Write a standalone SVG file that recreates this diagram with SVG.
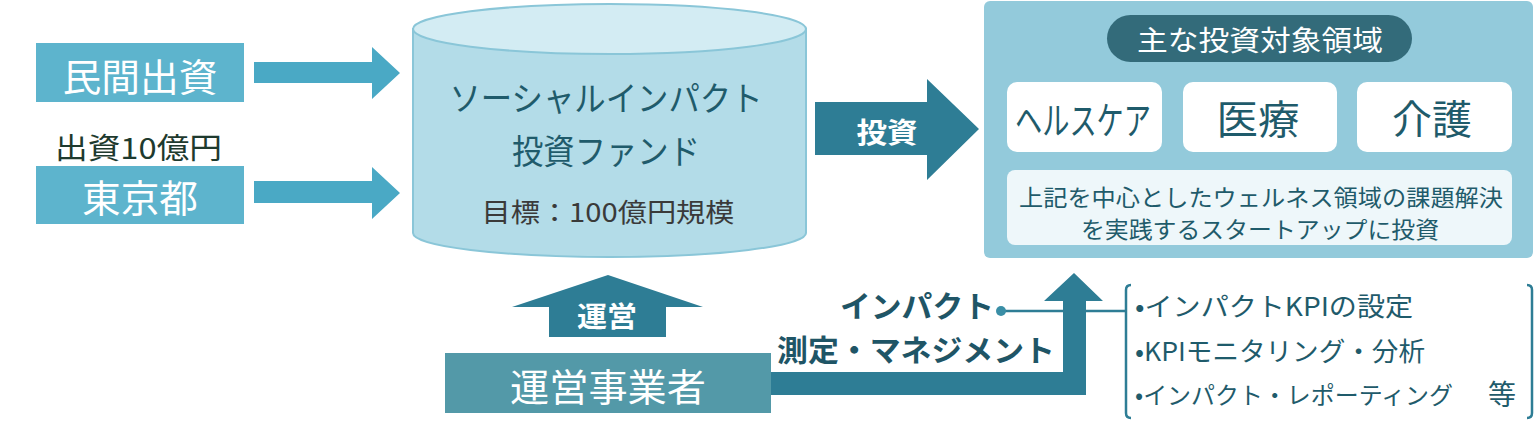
<svg xmlns="http://www.w3.org/2000/svg" width="1539" height="438" viewBox="0 0 1539 438">
<style>
text{font-family:"Noto Sans CJK JP","Noto Sans",sans-serif;dominant-baseline:central}
.w{fill:#ffffff}
.d{fill:#1f5b6b}
.b{font-weight:bold}
.src{fill:#5db4cd}
.arr{fill:#4aa9c5}
.dk{fill:#2e7d95}
.card{fill:#ffffff}
.brk{fill:none;stroke:#2e7d95;stroke-width:2.5}
</style>
<rect width="1539" height="438" fill="#ffffff"/>
<g id="minkan">
<rect class="src" x="36" y="43" width="208" height="59"/>
<text class="w" x="140" y="74" font-size="38" text-anchor="middle" textLength="155" lengthAdjust="spacingAndGlyphs">民間出資</text>
</g>
<g id="tokyo">
<text x="55" y="146" font-size="29" fill="#1e3a2e" textLength="167" lengthAdjust="spacingAndGlyphs">出資10億円</text>
<rect class="src" x="36" y="166" width="208" height="58"/>
<text class="w" x="140" y="195" font-size="38" text-anchor="middle" textLength="116" lengthAdjust="spacingAndGlyphs">東京都</text>
</g>
<g id="fund">
<path d="M413,29 V233 A196.5,24 0 0 0 806,233 V29 Z" fill="#b3dce8" stroke="#8ac6d8" stroke-width="2"/>
<ellipse cx="609.5" cy="29" rx="196.5" ry="25" fill="#d3ecf3" stroke="#8ac6d8" stroke-width="2"/>
<text class="d" x="606" y="96" font-size="34" text-anchor="middle" textLength="313" lengthAdjust="spacingAndGlyphs">ソーシャルインパクト</text>
<text class="d" x="606" y="149" font-size="34" text-anchor="middle" textLength="188" lengthAdjust="spacingAndGlyphs">投資ファンド</text>
<text x="608" y="210" font-size="26" fill="#3a3a3a" text-anchor="middle" textLength="253" lengthAdjust="spacingAndGlyphs">目標：100億円規模</text>
</g>
<g id="targets">
<rect x="984" y="1" width="549" height="257" rx="6" fill="#93cadb"/>
<rect x="1107" y="15" width="305" height="47" rx="23.5" fill="#336b7a"/>
<text class="w" x="1260" y="39" font-size="28" text-anchor="middle" textLength="246" lengthAdjust="spacingAndGlyphs">主な投資対象領域</text>
<rect class="card" x="1007" y="82" width="155" height="70" rx="10"/>
<text class="d" x="1083" y="117" font-size="38" text-anchor="middle" textLength="136" lengthAdjust="spacingAndGlyphs">ヘルスケア</text>
<rect class="card" x="1183" y="82" width="154" height="70" rx="10"/>
<text class="d" x="1258" y="117" font-size="40" text-anchor="middle" textLength="83" lengthAdjust="spacingAndGlyphs">医療</text>
<rect class="card" x="1357" y="82" width="155" height="70" rx="10"/>
<text class="d" x="1432" y="117" font-size="40" text-anchor="middle" textLength="80" lengthAdjust="spacingAndGlyphs">介護</text>
<rect x="1007" y="170" width="505" height="75" rx="8" fill="#eef7fa"/>
<text class="d" x="1261" y="196" font-size="23" text-anchor="middle" textLength="484" lengthAdjust="spacingAndGlyphs">上記を中心としたウェルネス領域の課題解決</text>
<text class="d" x="1260" y="228" font-size="23" text-anchor="middle" textLength="358" lengthAdjust="spacingAndGlyphs">を実践するスタートアップに投資</text>
</g>
<g id="operator">
<rect x="445" y="353" width="326" height="60" fill="#5399a8"/>
<text class="w" x="608" y="384" font-size="38" text-anchor="middle" textLength="196" lengthAdjust="spacingAndGlyphs">運営事業者</text>
</g>
<g id="activities">
<path class="brk" d="M1131,285 Q1126,285 1126,290 V413 Q1126,418 1131,418"/>
<path class="brk" d="M1527,285 Q1532,285 1532,290 V413 Q1532,418 1527,418"/>
<text class="d" x="1135" y="304" font-size="26" textLength="278" lengthAdjust="spacingAndGlyphs">•インパクトKPIの設定</text>
<text class="d" x="1135" y="349" font-size="26" textLength="290" lengthAdjust="spacingAndGlyphs">•KPIモニタリング・分析</text>
<text class="d" x="1135" y="393" font-size="24" textLength="318" lengthAdjust="spacingAndGlyphs">•インパクト・レポーティング</text>
<text class="d" x="1488" y="393" font-size="28">等</text>
</g>
<g id="connectors">
<polygon class="arr" points="254,62 372,62 372,47 400,73 372,99 372,83 254,83"/>
<polygon class="arr" points="254,181 372,181 372,167 400,193 372,219 372,203 254,203"/>
<polygon class="dk" points="815,102 927,102 927,79 979,129 927,180 927,155 815,155"/>
<text class="w b" x="887" y="131" font-size="28" text-anchor="middle" textLength="61" lengthAdjust="spacingAndGlyphs">投資</text>
<polygon class="dk" points="549,337 549,307 512,307 608,275 703,307 666,307 666,337"/>
<text class="w b" x="607" y="315" font-size="28" text-anchor="middle" textLength="60" lengthAdjust="spacingAndGlyphs">運営</text>
<line x1="1001" y1="311" x2="1126" y2="311" stroke="#2e7d95" stroke-width="2.5"/>
<circle cx="1001" cy="311" r="5" fill="#3a8ea6"/>
<polygon class="dk" points="771,372 1063,372 1063,301 1044,301 1074,273 1103,301 1086,301 1086,395 771,395"/>
<text class="b" x="994" y="304" font-size="30" fill="#1f5566" text-anchor="end" textLength="154" lengthAdjust="spacingAndGlyphs">インパクト</text>
<text class="b" x="1055" y="348" font-size="30" fill="#1f5566" text-anchor="end" textLength="278" lengthAdjust="spacingAndGlyphs">測定・マネジメント</text>
</g>
</svg>
